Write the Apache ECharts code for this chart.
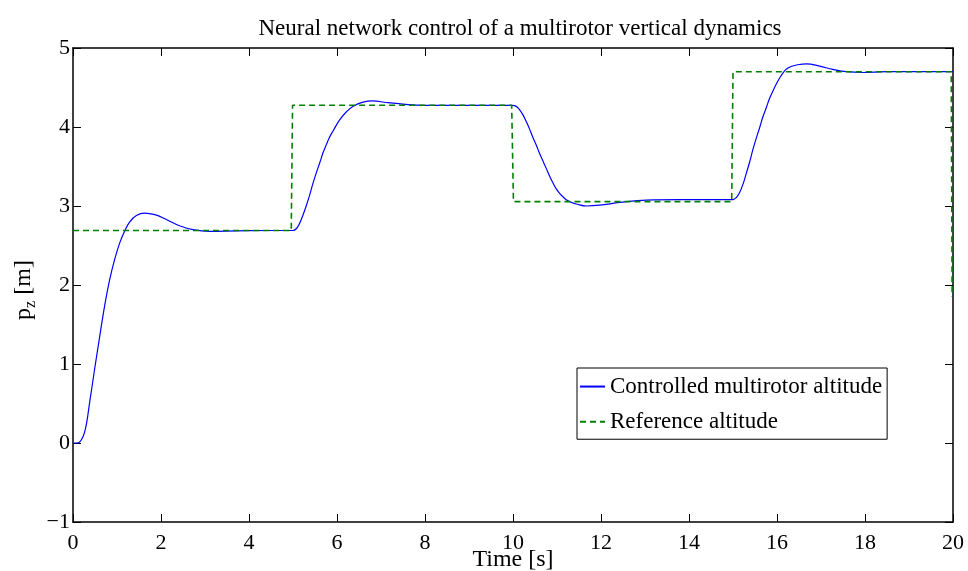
<!doctype html>
<html>
<head>
    <title>Multirotor altitude</title>
    <script src="https://cdn.jsdelivr.net/npm/echarts@6/dist/echarts.min.js"></script>
</head>
<body style="margin:0;background:#fff;">
<div id="chart" style="width: 968px; height: 571px;"></div>
<script type="text/javascript">

    // controlled altitude
    var ctrlTime = [0, 0.08, 0.15, 0.27, 0.38, 0.49, 0.61, 0.72, 0.83, 0.95, 1.06, 1.18, 1.29, 1.44, 1.63, 1.86,
        2.12, 2.42, 2.73, 3.11, 3.71, 4.47, 4.96, 5.0, 5.08, 5.15, 5.23, 5.3, 5.38, 5.45, 5.53, 5.61, 5.68, 5.76,
        5.83, 5.91, 6.06, 6.21, 6.36, 6.59, 6.82, 7.12, 7.5, 7.95, 9.92, 9.98, 10.04, 10.1, 10.16, 10.23, 10.3,
        10.38, 10.45, 10.53, 10.6, 10.68, 10.76, 10.83, 10.91, 10.98, 11.06, 11.13, 11.21, 11.33, 11.44, 11.67,
        11.97, 12.43, 13.03, 13.79, 14.92, 15.0, 15.08, 15.15, 15.23, 15.3, 15.38, 15.45, 15.53, 15.61, 15.68,
        15.76, 15.83, 15.91, 15.99, 16.06, 16.13, 16.21, 16.32, 16.44, 16.67, 16.97, 17.27, 17.58, 17.95, 18.48, 20];
    var ctrlAlt = [0, 0, 0.01, 0.15, 0.52, 0.93, 1.36, 1.74, 2.06, 2.33, 2.53, 2.69, 2.80, 2.88, 2.91, 2.89,
        2.83, 2.75, 2.70, 2.68, 2.685, 2.69, 2.69, 2.69, 2.715, 2.78, 2.89, 3.0, 3.14, 3.28, 3.42, 3.55, 3.67, 3.78,
        3.87, 3.95, 4.09, 4.19, 4.26, 4.315, 4.33, 4.31, 4.29, 4.275, 4.275, 4.275, 4.27, 4.25, 4.21, 4.15, 4.07,
        3.97, 3.87, 3.77, 3.67, 3.57, 3.47, 3.38, 3.29, 3.22, 3.16, 3.12, 3.08, 3.045, 3.025, 3.0,
        3.01, 3.045, 3.075, 3.08, 3.08, 3.08, 3.11, 3.17, 3.28, 3.41, 3.56, 3.71, 3.86, 4.0, 4.13,
        4.25, 4.36, 4.46, 4.55, 4.62, 4.68, 4.73, 4.765, 4.785, 4.80, 4.77, 4.73, 4.70, 4.69, 4.70, 4.70];

    // reference altitude (step signal)
    var refTime = [0, 4.96, 4.99, 9.97, 10.01, 14.97, 15.0, 19.96, 19.98];
    var refAlt = [2.69, 2.69, 4.275, 4.275, 3.055, 3.055, 4.70, 4.70, 1.85];

    var xTicks = {min: 0, max: 20, interval: 2};
    var yTicks = {min: -1, max: 5, interval: 1};

    function zip(a, b) {
        var out = [];
        for (var i = 0; i < a.length; i++) out.push([a[i], b[i]]);
        return out;
    }

    var font = 'Liberation Serif';
    var chart = echarts.init(document.getElementById('chart'));

    var tickStyle = {inside: true, length: 8, lineStyle: {color: '#000', width: 1}};
    var axisLine = {onZero: false, lineStyle: {color: '#000', width: 1.5}};
    var minusFmt = function (v) { return String(v).replace('-', '\u2212'); };

    var option = {
        backgroundColor: '#fff',
        animation: false,
        title: {
            text: 'Neural network control of a multirotor vertical dynamics',
            left: 515,
            top: 6,
            textAlign: 'center',
            textStyle: {fontFamily: font, fontSize: 23, fontWeight: 'normal', color: '#000'}
        },
        grid: {left: 73, right: 15, top: 48, bottom: 49, outerBoundsMode: 'none', containLabel: false},
        legend: {
            orient: 'vertical',
            left: 577,
            top: 368,
            padding: [1, 5, 0, 2],
            itemWidth: 25,
            itemHeight: 14,
            itemGap: 0,
            itemTextGap: 0,
            borderColor: '#000',
            borderWidth: 1,
            backgroundColor: '#fff',
            itemStyle: {opacity: 0},
            textStyle: {fontFamily: font, fontSize: 23, color: '#000'},
            data: ['Controlled multirotor altitude', 'Reference altitude']
        },
        xAxis: [{
            type: 'value',
            min: xTicks.min, max: xTicks.max, interval: xTicks.interval,
            name: 'Time [s]',
            nameLocation: 'middle',
            nameGap: 19,
            nameMoveOverlap: false,
            nameTextStyle: {fontFamily: font, fontSize: 24, color: '#000'},
            axisLine: axisLine,
            axisTick: tickStyle,
            splitLine: {show: false},
            axisLabel: {fontFamily: font, fontSize: 22, color: '#000', margin: 4}
        }, {
            type: 'value', position: 'top',
            min: xTicks.min, max: xTicks.max, interval: xTicks.interval,
            axisLine: axisLine,
            axisTick: tickStyle,
            axisLabel: {show: false},
            splitLine: {show: false}
        }],
        yAxis: [{
            type: 'value',
            min: yTicks.min, max: yTicks.max, interval: yTicks.interval,
            name: 'p{sub|z} [m]',
            nameLocation: 'middle',
            nameGap: 30,
            nameMoveOverlap: false,
            nameTextStyle: {
                fontFamily: font, fontSize: 24, color: '#000', padding: [0, 10, 0, 0],
                rich: {sub: {fontFamily: font, fontSize: 16, color: '#000', verticalAlign: 'bottom', padding: [15, 0, 0, 0]}}
            },
            axisLine: axisLine,
            axisTick: tickStyle,
            splitLine: {show: false},
            axisLabel: {fontFamily: font, fontSize: 22, color: '#000', margin: 3, formatter: minusFmt}
        }, {
            type: 'value', position: 'right',
            min: yTicks.min, max: yTicks.max, interval: yTicks.interval,
            axisLine: axisLine,
            axisTick: tickStyle,
            axisLabel: {show: false},
            splitLine: {show: false}
        }],
        series: [{
            name: 'Controlled multirotor altitude',
            type: 'line',
            showSymbol: false,
            symbol: 'none',
            smooth: 0.4,
            lineStyle: {color: '#0000ff', width: 1.2},
            itemStyle: {color: '#0000ff'},
            data: zip(ctrlTime, ctrlAlt)
        }, {
            name: 'Reference altitude',
            type: 'line',
            showSymbol: false,
            symbol: 'none',
            lineStyle: {color: '#008000', width: 1.6, type: [6, 4]},
            itemStyle: {color: '#008000'},
            data: zip(refTime, refAlt)
        }]
    };

    chart.setOption(option);
</script>
</body>
</html>
